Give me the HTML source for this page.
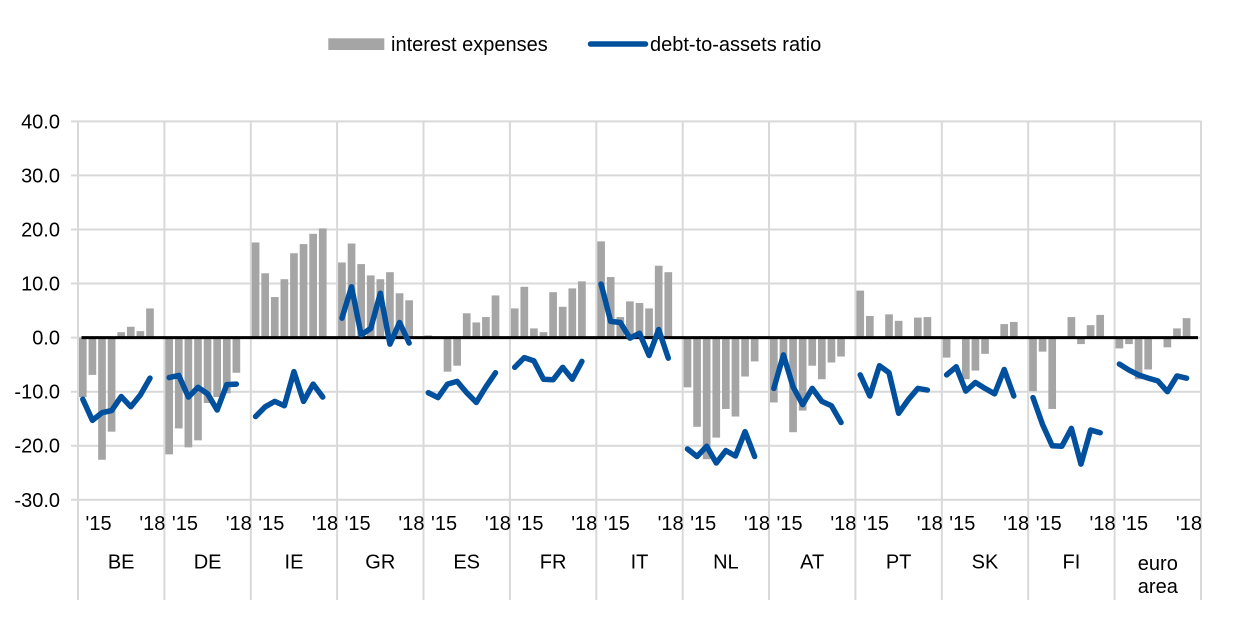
<!DOCTYPE html>
<html>
<head>
<meta charset="utf-8">
<style>
  html, body { margin: 0; padding: 0; background: #ffffff; }
  body { width: 1240px; height: 624px; overflow: hidden; }
  svg { display: block; }
  text { font-family: "Liberation Sans", Arial, sans-serif; font-size: 20px; fill: #000; }
</style>
</head>
<body>
<svg width="1240" height="624" viewBox="0 0 1240 624" xmlns="http://www.w3.org/2000/svg">
  <!-- Legend -->
  <rect x="328.3" y="38.3" width="56" height="11.7" fill="#a5a5a5"/>
  <text x="391" y="51">interest expenses</text>
  <line x1="590.5" y1="44" x2="645.5" y2="44" stroke="#00509e" stroke-width="5.5" stroke-linecap="round"/>
  <text x="650" y="51">debt-to-assets ratio</text>

  <!-- Horizontal gridlines -->
  <g stroke="#d9d9d9" stroke-width="2">
    <line x1="71" y1="121.4" x2="1201" y2="121.4"/>
    <line x1="71" y1="175.4" x2="1201" y2="175.4"/>
    <line x1="71" y1="229.5" x2="1201" y2="229.5"/>
    <line x1="71" y1="283.5" x2="1201" y2="283.5"/>
    <line x1="71" y1="337.6" x2="1201" y2="337.6"/>
    <line x1="71" y1="391.7" x2="1201" y2="391.7"/>
    <line x1="71" y1="445.7" x2="1201" y2="445.7"/>
    <line x1="71" y1="499.8" x2="1201" y2="499.8"/>
  </g>
  <!-- Vertical gridlines -->
  <g stroke="#d9d9d9" stroke-width="2">
    <line x1="78" y1="121" x2="78" y2="600"/>
    <line x1="164.4" y1="121" x2="164.4" y2="600"/>
    <line x1="250.8" y1="121" x2="250.8" y2="600"/>
    <line x1="337.1" y1="121" x2="337.1" y2="600"/>
    <line x1="423.5" y1="121" x2="423.5" y2="600"/>
    <line x1="509.9" y1="121" x2="509.9" y2="600"/>
    <line x1="596.3" y1="121" x2="596.3" y2="600"/>
    <line x1="682.7" y1="121" x2="682.7" y2="600"/>
    <line x1="769.0" y1="121" x2="769.0" y2="600"/>
    <line x1="855.4" y1="121" x2="855.4" y2="600"/>
    <line x1="941.8" y1="121" x2="941.8" y2="600"/>
    <line x1="1028.2" y1="121" x2="1028.2" y2="600"/>
    <line x1="1114.6" y1="121" x2="1114.6" y2="600"/>
    <line x1="1201" y1="121" x2="1201" y2="600"/>
  </g>

  <!-- Data: x in slot units, y in value units -->
  <g transform="matrix(9.598 0 0 -5.406 78 337.6)">
    <g fill="#a5a5a5">
      <!-- BE c=0 -->
      <rect x="0.1" y="-11" width="0.8" height="11"/>
      <rect x="1.1" y="-6.9" width="0.8" height="6.9"/>
      <rect x="2.1" y="-22.6" width="0.8" height="22.6"/>
      <rect x="3.1" y="-17.4" width="0.8" height="17.4"/>
      <rect x="4.1" y="0" width="0.8" height="1.0"/>
      <rect x="5.1" y="0" width="0.8" height="2.0"/>
      <rect x="6.1" y="0" width="0.8" height="1.2"/>
      <rect x="7.1" y="0" width="0.8" height="5.4"/>
      <!-- DE c=1 -->
      <rect x="9.1" y="-21.6" width="0.8" height="21.6"/>
      <rect x="10.1" y="-16.8" width="0.8" height="16.8"/>
      <rect x="11.1" y="-20.3" width="0.8" height="20.3"/>
      <rect x="12.1" y="-19.0" width="0.8" height="19.0"/>
      <rect x="13.1" y="-12.1" width="0.8" height="12.1"/>
      <rect x="14.1" y="-11.0" width="0.8" height="11.0"/>
      <rect x="15.1" y="-10.3" width="0.8" height="10.3"/>
      <rect x="16.1" y="-6.5" width="0.8" height="6.5"/>
      <!-- IE c=2 -->
      <rect x="18.1" y="0" width="0.8" height="17.6"/>
      <rect x="19.1" y="0" width="0.8" height="11.9"/>
      <rect x="20.1" y="0" width="0.8" height="7.5"/>
      <rect x="21.1" y="0" width="0.8" height="10.8"/>
      <rect x="22.1" y="0" width="0.8" height="15.6"/>
      <rect x="23.1" y="0" width="0.8" height="17.3"/>
      <rect x="24.1" y="0" width="0.8" height="19.2"/>
      <rect x="25.1" y="0" width="0.8" height="20.2"/>
      <!-- GR c=3 -->
      <rect x="27.1" y="0" width="0.8" height="13.9"/>
      <rect x="28.1" y="0" width="0.8" height="17.4"/>
      <rect x="29.1" y="0" width="0.8" height="13.6"/>
      <rect x="30.1" y="0" width="0.8" height="11.5"/>
      <rect x="31.1" y="0" width="0.8" height="10.8"/>
      <rect x="32.1" y="0" width="0.8" height="12.1"/>
      <rect x="33.1" y="0" width="0.8" height="8.2"/>
      <rect x="34.1" y="0" width="0.8" height="6.9"/>
      <!-- ES c=4 -->
      <rect x="36.1" y="0" width="0.8" height="0.4"/>
      <rect x="38.1" y="-6.3" width="0.8" height="6.3"/>
      <rect x="39.1" y="-5.2" width="0.8" height="5.2"/>
      <rect x="40.1" y="0" width="0.8" height="4.5"/>
      <rect x="41.1" y="0" width="0.8" height="2.8"/>
      <rect x="42.1" y="0" width="0.8" height="3.8"/>
      <rect x="43.1" y="0" width="0.8" height="7.8"/>
      <!-- FR c=5 -->
      <rect x="45.1" y="0" width="0.8" height="5.4"/>
      <rect x="46.1" y="0" width="0.8" height="9.4"/>
      <rect x="47.1" y="0" width="0.8" height="1.7"/>
      <rect x="48.1" y="0" width="0.8" height="1.0"/>
      <rect x="49.1" y="0" width="0.8" height="8.4"/>
      <rect x="50.1" y="0" width="0.8" height="5.7"/>
      <rect x="51.1" y="0" width="0.8" height="9.1"/>
      <rect x="52.1" y="0" width="0.8" height="10.4"/>
      <!-- IT c=6 -->
      <rect x="54.1" y="0" width="0.8" height="17.8"/>
      <rect x="55.1" y="0" width="0.8" height="11.2"/>
      <rect x="56.1" y="0" width="0.8" height="3.8"/>
      <rect x="57.1" y="0" width="0.8" height="6.7"/>
      <rect x="58.1" y="0" width="0.8" height="6.4"/>
      <rect x="59.1" y="0" width="0.8" height="5.4"/>
      <rect x="60.1" y="0" width="0.8" height="13.3"/>
      <rect x="61.1" y="0" width="0.8" height="12.1"/>
      <!-- NL c=7 -->
      <rect x="63.1" y="-9.2" width="0.8" height="9.2"/>
      <rect x="64.1" y="-16.5" width="0.8" height="16.5"/>
      <rect x="65.1" y="-22.5" width="0.8" height="22.5"/>
      <rect x="66.1" y="-18.5" width="0.8" height="18.5"/>
      <rect x="67.1" y="-13.2" width="0.8" height="13.2"/>
      <rect x="68.1" y="-14.6" width="0.8" height="14.6"/>
      <rect x="69.1" y="-7.2" width="0.8" height="7.2"/>
      <rect x="70.1" y="-4.4" width="0.8" height="4.4"/>
      <!-- AT c=8 -->
      <rect x="72.1" y="-12.0" width="0.8" height="12.0"/>
      <rect x="73.1" y="-5.0" width="0.8" height="5.0"/>
      <rect x="74.1" y="-17.5" width="0.8" height="17.5"/>
      <rect x="75.1" y="-13.5" width="0.8" height="13.5"/>
      <rect x="76.1" y="-5.2" width="0.8" height="5.2"/>
      <rect x="77.1" y="-7.7" width="0.8" height="7.7"/>
      <rect x="78.1" y="-4.6" width="0.8" height="4.6"/>
      <rect x="79.1" y="-3.5" width="0.8" height="3.5"/>
      <!-- PT c=9 -->
      <rect x="81.1" y="0" width="0.8" height="8.7"/>
      <rect x="82.1" y="0" width="0.8" height="4.0"/>
      <rect x="84.1" y="0" width="0.8" height="4.3"/>
      <rect x="85.1" y="0" width="0.8" height="3.1"/>
      <rect x="87.1" y="0" width="0.8" height="3.7"/>
      <rect x="88.1" y="0" width="0.8" height="3.8"/>
      <!-- SK c=10 -->
      <rect x="90.1" y="-3.7" width="0.8" height="3.7"/>
      <rect x="92.1" y="-7.7" width="0.8" height="7.7"/>
      <rect x="93.1" y="-6.1" width="0.8" height="6.1"/>
      <rect x="94.1" y="-3.0" width="0.8" height="3.0"/>
      <rect x="96.1" y="0" width="0.8" height="2.5"/>
      <rect x="97.1" y="0" width="0.8" height="2.9"/>
      <!-- FI c=11 -->
      <rect x="99.1" y="-9.9" width="0.8" height="9.9"/>
      <rect x="100.1" y="-2.6" width="0.8" height="2.6"/>
      <rect x="101.1" y="-13.2" width="0.8" height="13.2"/>
      <rect x="103.1" y="0" width="0.8" height="3.8"/>
      <rect x="104.1" y="-1.2" width="0.8" height="1.2"/>
      <rect x="105.1" y="0" width="0.8" height="2.3"/>
      <rect x="106.1" y="0" width="0.8" height="4.2"/>
      <!-- EA c=12 -->
      <rect x="108.1" y="-2.0" width="0.8" height="2.0"/>
      <rect x="109.1" y="-1.2" width="0.8" height="1.2"/>
      <rect x="110.1" y="-7.7" width="0.8" height="7.7"/>
      <rect x="111.1" y="-5.9" width="0.8" height="5.9"/>
      <rect x="113.1" y="-1.8" width="0.8" height="1.8"/>
      <rect x="114.1" y="0" width="0.8" height="1.7"/>
      <rect x="115.1" y="0" width="0.8" height="3.6"/>
    </g>
  </g>

  <!-- Zero axis line -->
  <line x1="81.5" y1="337.6" x2="1198" y2="337.6" stroke="#000" stroke-width="3"/>

  <!-- Lines -->
  <g transform="matrix(9.598 0 0 -5.406 78 337.6)" fill="none" stroke="#00509e" stroke-width="5.5" stroke-linejoin="round" stroke-linecap="round">
    <polyline vector-effect="non-scaling-stroke" points="0.5,-11.4 1.5,-15.3 2.5,-13.9 3.5,-13.5 4.5,-10.9 5.5,-12.8 6.5,-10.6 7.5,-7.5"/>
    <polyline vector-effect="non-scaling-stroke" points="9.5,-7.4 10.5,-7.0 11.5,-11.0 12.5,-9.2 13.5,-10.4 14.5,-13.4 15.5,-8.7 16.5,-8.6"/>
    <polyline vector-effect="non-scaling-stroke" points="18.5,-14.6 19.5,-12.8 20.5,-11.8 21.5,-12.6 22.5,-6.3 23.5,-11.8 24.5,-8.6 25.5,-11.0"/>
    <polyline vector-effect="non-scaling-stroke" points="27.5,3.6 28.5,9.4 29.5,0.5 30.5,1.7 31.5,8.2 32.5,-1.2 33.5,2.8 34.5,-1.0"/>
    <polyline vector-effect="non-scaling-stroke" points="36.5,-10.2 37.5,-11.1 38.5,-8.6 39.5,-8.1 40.5,-10.2 41.5,-12.0 42.5,-9.1 43.5,-6.5"/>
    <polyline vector-effect="non-scaling-stroke" points="45.5,-5.5 46.5,-3.7 47.5,-4.3 48.5,-7.7 49.5,-7.8 50.5,-5.5 51.5,-7.7 52.5,-4.4"/>
    <polyline vector-effect="non-scaling-stroke" points="54.5,9.9 55.5,3.0 56.5,2.8 57.5,-0.1 58.5,0.8 59.5,-3.3 60.5,1.5 61.5,-3.8"/>
    <polyline vector-effect="non-scaling-stroke" points="63.5,-20.6 64.5,-22.0 65.5,-20.1 66.5,-23.2 67.5,-20.9 68.5,-21.9 69.5,-17.4 70.5,-22.0"/>
    <polyline vector-effect="non-scaling-stroke" points="72.5,-9.4 73.5,-3.2 74.5,-9.1 75.5,-12.4 76.5,-9.4 77.5,-11.8 78.5,-12.6 79.5,-15.7"/>
    <polyline vector-effect="non-scaling-stroke" points="81.5,-6.9 82.5,-10.8 83.5,-5.2 84.5,-6.5 85.5,-14.0 86.5,-11.5 87.5,-9.4 88.5,-9.7"/>
    <polyline vector-effect="non-scaling-stroke" points="90.5,-6.9 91.5,-5.4 92.5,-9.9 93.5,-8.3 94.5,-9.4 95.5,-10.4 96.5,-5.9 97.5,-10.8"/>
    <polyline vector-effect="non-scaling-stroke" points="99.5,-11.1 100.5,-16.1 101.5,-20.0 102.5,-20.1 103.5,-16.8 104.5,-23.4 105.5,-17.1 106.5,-17.6"/>
    <polyline vector-effect="non-scaling-stroke" points="108.5,-4.9 109.5,-6.0 110.5,-6.9 111.5,-7.5 112.5,-8.0 113.5,-10.0 114.5,-7.1 115.5,-7.5"/>
  </g>

  <!-- Y axis labels -->
  <g text-anchor="end">
    <text x="60" y="128.4">40.0</text>
    <text x="60" y="182.4">30.0</text>
    <text x="60" y="236.5">20.0</text>
    <text x="60" y="290.5">10.0</text>
    <text x="60" y="344.6">0.0</text>
    <text x="60" y="398.7">-10.0</text>
    <text x="60" y="452.7">-20.0</text>
    <text x="60" y="506.8">-30.0</text>
  </g>

  <!-- X axis year labels -->
  <g>
    <text x="85.5" y="530">'15</text>
    <text x="171.9" y="530">'15</text>
    <text x="258.3" y="530">'15</text>
    <text x="344.6" y="530">'15</text>
    <text x="431.0" y="530">'15</text>
    <text x="517.4" y="530">'15</text>
    <text x="603.8" y="530">'15</text>
    <text x="690.2" y="530">'15</text>
    <text x="776.5" y="530">'15</text>
    <text x="862.9" y="530">'15</text>
    <text x="949.3" y="530">'15</text>
    <text x="1035.7" y="530">'15</text>
    <text x="1122.1" y="530">'15</text>
  </g>
  <g text-anchor="end">
    <text x="165.4" y="530">'18</text>
    <text x="251.8" y="530">'18</text>
    <text x="338.1" y="530">'18</text>
    <text x="424.5" y="530">'18</text>
    <text x="510.9" y="530">'18</text>
    <text x="597.3" y="530">'18</text>
    <text x="683.7" y="530">'18</text>
    <text x="770.0" y="530">'18</text>
    <text x="856.4" y="530">'18</text>
    <text x="942.8" y="530">'18</text>
    <text x="1029.2" y="530">'18</text>
    <text x="1115.6" y="530">'18</text>
    <text x="1202.0" y="530">'18</text>
  </g>

  <!-- Country labels -->
  <g text-anchor="middle">
    <text x="121.2" y="568.5">BE</text>
    <text x="207.6" y="568.5">DE</text>
    <text x="294.0" y="568.5">IE</text>
    <text x="380.3" y="568.5">GR</text>
    <text x="466.7" y="568.5">ES</text>
    <text x="553.1" y="568.5">FR</text>
    <text x="639.5" y="568.5">IT</text>
    <text x="725.9" y="568.5">NL</text>
    <text x="812.2" y="568.5">AT</text>
    <text x="898.6" y="568.5">PT</text>
    <text x="985.0" y="568.5">SK</text>
    <text x="1071.4" y="568.5">FI</text>
    <text x="1157.8" y="570">euro</text>
    <text x="1157.8" y="593">area</text>
  </g>
</svg>
</body>
</html>
